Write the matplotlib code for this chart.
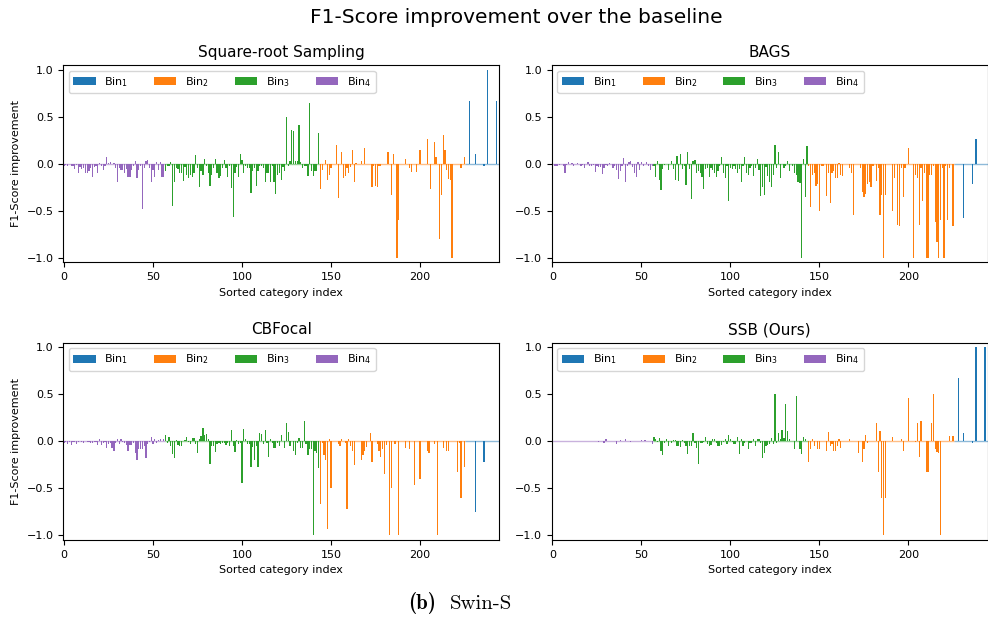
import numpy as np
import matplotlib
matplotlib.use('Agg')
import matplotlib.pyplot as plt

# category index boundaries of the four bins (Bin4 | Bin3 | Bin2 | Bin1)
bin_edges = [0, 57, 144, 226, 245]
bin_names = ['Bin$_1$', 'Bin$_2$', 'Bin$_3$', 'Bin$_4$']
bin_colors = ['tab:blue', 'tab:orange', 'tab:green', 'tab:purple']

titles = ['Square-root Sampling', 'BAGS', 'CBFocal', 'SSB (Ours)']

########## Square-root Sampling
sqrt_bin4 = [
    -0.02, -0.01, -0.02, 0.00, -0.03, -0.02, -0.06, -0.01, -0.10, -0.04,
    -0.06, -0.05, -0.10, -0.10, -0.08, -0.05, -0.14, -0.04, -0.02, -0.10,
    0.01, -0.02, -0.07, -0.03, 0.07, 0.01, 0.02, 0.00, 0.01, -0.05,
    -0.20, -0.05, -0.07, -0.07, -0.10, -0.06, -0.14, -0.14, -0.07, -0.02,
    0.03, -0.15, -0.07, -0.02, -0.48, -0.05, 0.03, 0.04, -0.05, -0.20,
    -0.07, -0.14, 0.02, -0.07, 0.02, -0.14, -0.14]
sqrt_bin3 = [
    -0.08, -0.03, -0.02, 0.02, -0.45, -0.20, -0.05, -0.06, -0.10, -0.10,
    -0.18, -0.04, -0.12, -0.15, -0.12, -0.14, -0.10, 0.09, -0.05, -0.25,
    -0.08, -0.12, 0.05, -0.03, -0.10, -0.24, -0.12, -0.05, 0.05, -0.10,
    -0.15, -0.13, -0.05, 0.04, -0.05, -0.14, -0.02, -0.26, -0.57, -0.10,
    -0.04, -0.14, 0.10, 0.04, -0.10, -0.02, -0.05, -0.05, -0.31, -0.08,
    -0.05, -0.24, -0.08, -0.03, -0.03, -0.05, -0.20, -0.10, -0.10, -0.20,
    -0.03, -0.20, -0.32, -0.12, -0.10, -0.17, -0.04, -0.08, 0.50, -0.02,
    0.03, 0.36, 0.35, 0.03, 0.03, 0.41, 0.02, -0.05, -0.03, -0.02,
    -0.13, 0.65, -0.08, -0.13, -0.08, -0.08, 0.33]
sqrt_bin2 = [
    -0.27, -0.07, 0.00, 0.04, -0.17, -0.12, -0.05, 0.00, 0.00, 0.20,
    -0.37, 0.00, 0.12, -0.15, -0.13, -0.05, -0.10, -0.04, 0.15, -0.20,
    0.01, 0.00, 0.00, 0.03, 0.00, 0.17, 0.00, 0.00, 0.00, -0.25,
    -0.03, -0.24, -0.25, -0.02, -0.02, 0.00, 0.00, 0.00, 0.12, 0.00,
    -0.33, 0.10, 0.00, -1.00, -0.60, 0.00, 0.00, 0.00, 0.05, 0.00,
    -0.05, -0.09, 0.00, 0.00, -0.09, 0.00, 0.14, 0.00, 0.00, 0.00,
    0.26, 0.00, -0.27, 0.00, 0.23, 0.07, 0.00, -0.80, -0.33, 0.31,
    0.14, -0.07, -0.16, -0.17, -1.00, 0.00, 0.00, 0.00, 0.00, -0.05,
    0.00, 0.07]
sqrt_bin1 = [0.00, 0.00, 0.67, 0.00, 0.00, 0.10, 0.00, 0.00, 0.00, 0.00,
             -0.02, 0.00, 1.00, 0.00, 0.00, 0.00, 0.00, 0.67, 0.00]

########## BAGS
bags_bin4 = [
    -0.01, -0.02, -0.02, -0.03, -0.01, 0.00, -0.02, -0.10, -0.01, 0.02,
    0.00, 0.01, -0.02, 0.00, 0.01, 0.00, -0.02, -0.01, -0.05, 0.00,
    0.02, -0.02, -0.02, -0.01, -0.09, -0.02, -0.04, -0.04, -0.11, -0.05,
    -0.01, -0.02, 0.01, 0.00, -0.05, -0.02, -0.07, -0.16, -0.08, -0.03,
    0.06, -0.19, -0.03, 0.02, 0.03, -0.04, -0.10, -0.14, 0.02, -0.07,
    0.02, -0.03, 0.00, 0.02, -0.03, -0.07, -0.02]
bags_bin3 = [
    -0.03, -0.14, 0.03, -0.17, -0.28, -0.06, -0.01, 0.00, -0.07, 0.00,
    0.03, -0.06, -0.17, 0.08, -0.18, 0.10, -0.06, -0.02, -0.23, 0.12,
    -0.06, -0.38, 0.03, 0.04, -0.10, -0.08, -0.10, -0.14, -0.27, -0.06,
    -0.05, -0.14, -0.05, -0.07, -0.10, -0.14, -0.08, -0.03, 0.07, -0.10,
    -0.15, -0.02, -0.40, -0.05, -0.06, -0.02, -0.06, -0.10, -0.06, -0.19,
    -0.02, 0.07, -0.10, -0.12, -0.05, -0.02, -0.13, -0.05, 0.05, -0.07,
    -0.34, -0.25, -0.33, -0.04, -0.13, -0.20, -0.25, -0.12, 0.20, -0.05,
    0.12, -0.15, 0.00, -0.05, -0.02, 0.03, -0.08, 0.00, -0.02, -0.10,
    -0.12, -0.20, -0.21, -1.00, 0.05, -0.35, 0.19]
bags_bin2 = [
    -0.02, -0.46, -0.12, -0.10, -0.24, -0.22, -0.50, -0.03, -0.02, 0.00,
    -0.34, -0.10, -0.42, -0.10, -0.08, -0.15, -0.15, 0.01, -0.12, -0.13,
    0.00, 0.00, 0.00, -0.05, -0.10, -0.55, 0.00, 0.00, 0.00, -0.05,
    -0.30, -0.35, -0.32, -0.22, -0.20, -0.25, -0.03, 0.00, -0.18, -0.05,
    -0.55, -0.33, -1.00, -0.33, 0.00, 0.00, 0.00, -0.50, -0.15, 0.00,
    -0.65, -0.66, -0.05, -0.35, -0.05, 0.00, 0.17, 0.00, 0.00, -1.00,
    -0.12, -0.15, -0.65, -0.05, -0.40, -0.10, -1.00, -1.00, -0.12, -0.12,
    -0.02, -0.62, -0.83, -1.00, -0.60, -0.05, -1.00, -0.02, -0.60, -0.05,
    0.00, -0.66]
bags_bin1 = [0.00, 0.00, 0.00, 0.00, 0.00, -0.58, 0.00, 0.00, 0.00, 0.00,
             -0.22, 0.00, 0.26, 0.00, 0.00, 0.00, 0.00, 0.00, 0.00]

########## CBFocal
cbf_bin4 = [
    -0.02, -0.01, -0.03, -0.01, -0.04, -0.01, -0.01, -0.03, -0.01, 0.00,
    -0.01, -0.02, 0.00, -0.01, -0.01, -0.02, -0.02, -0.01, -0.01, -0.04,
    0.02, -0.04, -0.02, -0.01, -0.07, -0.03, -0.02, -0.07, -0.10, -0.02,
    0.03, -0.03, 0.02, -0.01, -0.02, -0.04, -0.10, -0.04, -0.04, -0.02,
    -0.12, -0.20, -0.08, -0.08, -0.08, -0.05, -0.18, -0.03, -0.01, 0.05,
    -0.03, 0.03, -0.02, 0.01, 0.02, 0.00, 0.03]
cbf_bin3 = [
    0.07, -0.02, 0.05, -0.05, -0.13, -0.18, 0.01, -0.04, -0.05, -0.05,
    0.00, 0.01, 0.05, -0.01, -0.03, 0.04, 0.04, -0.03, -0.12, 0.03,
    0.06, 0.14, 0.07, 0.08, 0.02, -0.24, -0.05, -0.05, -0.11, -0.03,
    -0.02, -0.03, -0.02, -0.02, -0.04, -0.02, -0.05, 0.12, -0.05, -0.11,
    0.01, -0.03, -0.02, -0.44, 0.13, 0.03, -0.03, -0.03, -0.27, -0.06,
    -0.20, -0.05, -0.27, 0.09, 0.08, -0.03, 0.12, -0.02, -0.17, 0.02,
    -0.02, -0.07, -0.07, -0.02, -0.05, 0.07, 0.00, -0.07, 0.20, 0.10,
    -0.05, 0.00, -0.10, -0.15, -0.02, 0.04, -0.07, -0.07, 0.22, -0.03,
    -0.15, -0.08, -0.08, -1.00, -0.10, -0.12, -0.28]
cbf_bin2 = [
    -0.67, -0.02, -0.15, -0.20, -0.93, 0.03, -0.50, 0.00, 0.00, 0.00,
    -0.03, -0.05, 0.03, 0.00, -0.02, -0.72, 0.03, -0.05, -0.10, -0.25,
    0.00, 0.00, 0.00, -0.20, -0.15, -0.10, -0.06, 0.00, 0.09, -0.22,
    0.00, 0.00, -0.03, -0.10, -0.17, -0.08, -0.35, -0.04, 0.00, -1.00,
    -0.50, 0.00, -0.03, 0.00, -1.00, 0.00, 0.00, 0.00, -0.07, 0.00,
    -0.08, 0.00, 0.00, -0.47, 0.00, 0.00, -0.40, 0.00, 0.00, 0.00,
    -0.10, -0.12, 0.00, 0.00, -0.03, 0.00, -1.00, 0.00, 0.00, -0.07,
    0.00, -0.10, -0.10, 0.00, 0.00, 0.00, 0.00, -0.33, -0.02, -0.60,
    0.00, -0.27]
cbf_bin1 = [0.00, 0.00, 0.00, 0.00, 0.00, -0.75, 0.00, 0.00, 0.00, 0.00,
            -0.22, 0.00, 0.00, 0.00, 0.00, 0.00, 0.00, 0.00, 0.00]

########## SSB (Ours)
ssb_bin4 = [
    0.00, 0.00, 0.00, 0.00, 0.00, 0.00, 0.00, 0.00, 0.00, 0.00,
    0.00, 0.00, 0.00, 0.00, 0.00, 0.00, 0.00, 0.00, 0.00, 0.00,
    0.00, 0.00, 0.00, 0.00, 0.00, 0.00, -0.01, 0.00, 0.00, -0.02,
    0.03, 0.00, 0.00, 0.00, 0.00, 0.00, -0.03, 0.00, 0.01, 0.00,
    0.00, 0.03, 0.00, 0.00, -0.01, 0.00, 0.00, 0.00, 0.00, 0.00,
    0.01, 0.00, 0.01, 0.00, 0.00, 0.00, -0.03]
ssb_bin3 = [
    0.05, 0.02, -0.01, 0.04, -0.10, -0.15, -0.02, 0.02, -0.05, 0.00,
    -0.02, 0.01, 0.01, -0.05, -0.05, -0.06, 0.01, -0.02, -0.05, -0.14,
    -0.05, -0.05, 0.09, -0.02, -0.07, -0.24, -0.02, -0.02, -0.01, 0.05,
    -0.03, -0.05, -0.04, 0.02, 0.02, -0.02, -0.05, -0.05, -0.04, -0.01,
    0.03, -0.03, 0.07, 0.03, -0.01, -0.03, -0.03, 0.05, -0.13, 0.03,
    -0.05, -0.02, 0.00, -0.08, -0.02, -0.02, 0.02, -0.05, 0.02, 0.02,
    -0.02, -0.18, -0.12, -0.05, -0.04, -0.03, 0.04, -0.03, 0.50, -0.02,
    0.09, 0.02, 0.12, 0.04, 0.40, 0.11, 0.02, 0.00, 0.00, -0.08,
    0.48, 0.00, -0.08, -0.13, 0.05, 0.02, 0.00]
ssb_bin2 = [
    -0.22, -0.08, 0.02, -0.05, 0.00, -0.08, -0.08, 0.00, 0.00, 0.00,
    -0.10, 0.10, -0.05, -0.03, -0.10, -0.10, -0.05, 0.03, -0.07, 0.00,
    0.00, 0.00, 0.00, 0.03, 0.00, 0.00, 0.00, 0.00, -0.12, 0.00,
    -0.22, -0.08, 0.07, -0.02, 0.00, 0.00, 0.00, 0.00, 0.20, -0.33,
    0.11, -0.60, -1.00, -0.60, 0.00, 0.00, 0.00, 0.05, 0.00, 0.00,
    0.00, 0.00, 0.03, -0.10, 0.00, 0.00, 0.46, 0.00, 0.00, 0.00,
    -0.01, 0.20, -0.17, 0.22, 0.00, 0.00, -0.33, -0.33, 0.00, 0.20,
    0.50, -0.08, -0.11, -0.12, -1.00, 0.00, 0.00, 0.00, 0.00, 0.06,
    0.00, 0.06]
ssb_bin1 = [0.00, 0.00, 0.67, 0.00, 0.00, 0.09, 0.00, 0.00, 0.00, 0.00,
            -0.02, 0.00, 1.00, 0.00, 0.00, 0.00, 0.00, 1.00, 0.00]

# per method: [Bin1, Bin2, Bin3, Bin4]
methods = [
    [sqrt_bin1, sqrt_bin2, sqrt_bin3, sqrt_bin4],
    [bags_bin1, bags_bin2, bags_bin3, bags_bin4],
    [cbf_bin1, cbf_bin2, cbf_bin3, cbf_bin4],
    [ssb_bin1, ssb_bin2, ssb_bin3, ssb_bin4],
]

# bin k covers category indices [start, end)
bin_ranges = [(bin_edges[3], bin_edges[4]), (bin_edges[2], bin_edges[3]),
              (bin_edges[1], bin_edges[2]), (bin_edges[0], bin_edges[1])]

fig, axes = plt.subplots(2, 2, figsize=(9.88, 6.17), dpi=100)
fig.subplots_adjust(left=0.0641, right=0.9995, bottom=0.1248, top=0.8947,
                    wspace=0.121, hspace=0.407)

for i, ax in enumerate(axes.flat):
    for k in range(4):
        start, end = bin_ranges[k]
        x = np.arange(start, end)
        ax.hlines(0, start - 0.5, end - 0.5, color=bin_colors[k], alpha=0.5, lw=1)
        ax.bar(x, methods[i][k], width=0.7, color=bin_colors[k], label=bin_names[k])
    ax.set_xlim(-0.4, 244.4)
    ax.set_ylim(-1.05, 1.05)
    ax.set_title(titles[i], fontsize=11)
    ax.set_xlabel('Sorted category index', fontsize=8)
    if i % 2 == 0:
        ax.set_ylabel('F1-Score improvement', fontsize=8)
    ax.tick_params(labelsize=8)
    ax.legend(loc='upper left', ncol=4, fontsize=8, columnspacing=2.3)

fig.suptitle('F1-Score improvement over the baseline', fontsize=14.5,
             x=0.523, y=0.9627, va='baseline')

fig.text(408 / 988, 0.013, '(b)', fontfamily='cmb10', fontsize=15, va='baseline')
fig.text(450 / 988, 0.013, 'Swin-S', fontfamily='cmr10', fontsize=15, va='baseline')

plt.savefig('out.png', dpi=100)
